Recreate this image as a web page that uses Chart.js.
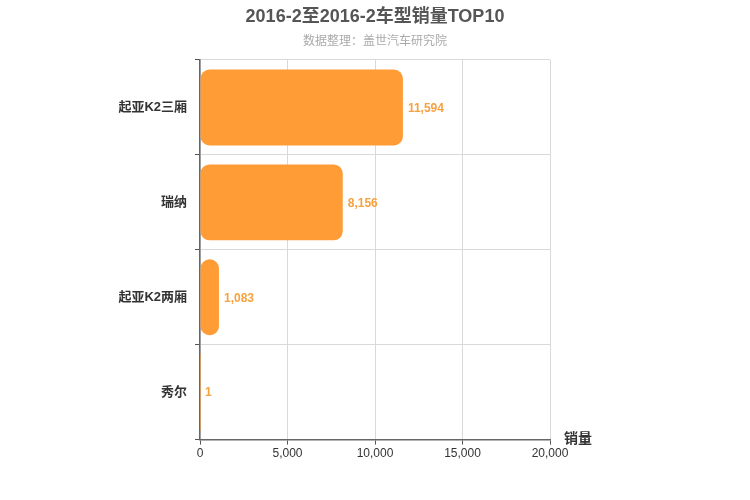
<!DOCTYPE html>
<html><head><meta charset="utf-8">
<script src="https://cdn.jsdelivr.net/npm/chart.js@4"></script>
<style>html,body{margin:0;padding:0;background:#fff}#wrap{width:750px;height:500px}</style>
</head><body><div id="wrap"><canvas id="c" width="750" height="500"></canvas></div>
<script>
const categories = ['起亚K2三厢', '瑞纳', '起亚K2两厢', '秀尔'];
const sales = [11594, 8156, 1083, 1];
const xTicks = [0, 5000, 10000, 15000, 20000];
const titleText = '2016-2至2016-2车型销量TOP10';
const subtitleText = '数据整理：盖世汽车研究院';
const axisTitle = '销量';

const FONT = '"Liberation Sans", Arial, "Noto Sans CJK SC", sans-serif';

const labelPlugin = {
  id: 'labels',
  afterDatasetsDraw(chart) {
    const ctx = chart.ctx;
    const meta = chart.getDatasetMeta(0);
    ctx.save();
    ctx.font = 'bold 12px ' + FONT;
    ctx.fillStyle = '#F7A13F';
    ctx.textAlign = 'left';
    ctx.textBaseline = 'middle';
    meta.data.forEach((bar, i) => {
      ctx.fillText(sales[i].toLocaleString('en-US'), bar.x + 5, bar.y + 1);
    });
    ctx.font = 'bold 14px ' + FONT;
    ctx.fillStyle = '#333';
    const xs = chart.scales.x;
    ctx.fillText(axisTitle, xs.right + 14, xs.top);
    // titles centred on the full canvas
    ctx.textAlign = 'center';
    ctx.font = 'bold 18px ' + FONT;
    ctx.fillStyle = '#555';
    ctx.fillText(titleText, chart.width / 2, 17);
    ctx.font = '12px ' + FONT;
    ctx.fillStyle = '#aaa';
    ctx.fillText(subtitleText, chart.width / 2, 42);
    ctx.restore();
  }
};

new Chart(document.getElementById('c'), {
  type: 'bar',
  data: {
    labels: categories,
    datasets: [{
      data: sales,
      backgroundColor: '#FF9C35',
      borderRadius: 9,
      borderSkipped: false,
      categoryPercentage: 0.8,
      barPercentage: 1.0
    }]
  },
  options: {
    indexAxis: 'y',
    responsive: false,
    animation: false,
    devicePixelRatio: 1,
    layout: { padding: { left: 0, right: 200, top: 60, bottom: 37 } },
    plugins: {
      legend: { display: false },
      tooltip: { enabled: false },
      title: { display: false },
      subtitle: { display: false }
    },
    scales: {
      x: {
        min: 0, max: 20000,
        afterBuildTicks(axis) { axis.ticks = xTicks.map(v => ({ value: v })); },
        ticks: {
          color: '#333', font: { family: FONT, size: 12 },
          callback: v => v.toLocaleString('en-US'), maxRotation: 0, padding: 2
        },
        grid: { color: '#d9d9d9', tickColor: '#555', tickLength: 5, lineWidth: 1 },
        border: { color: '#666', width: 1.5 }
      },
      y: {
        afterFit(axis) { axis.width = 200; },
        ticks: { color: '#333', font: { family: FONT, size: 13, weight: 'bold' }, padding: 8 },
        grid: { color: '#d9d9d9', tickColor: '#555', tickLength: 5, offset: true },
        border: { color: '#666', width: 1.5 }
      }
    }
  },
  plugins: [labelPlugin]
});
</script></body></html>
